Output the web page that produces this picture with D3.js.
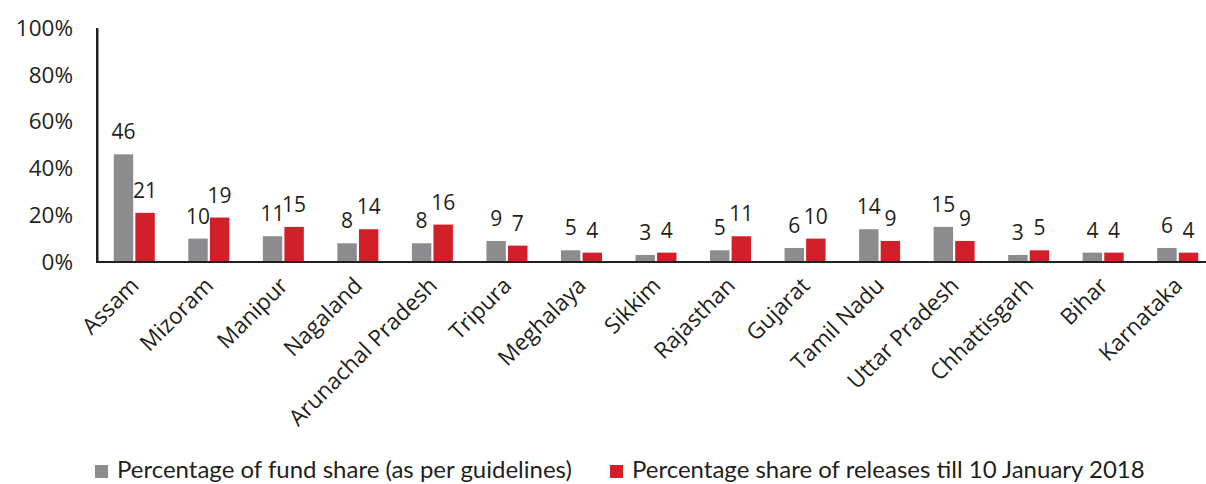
<!DOCTYPE html>
<html>
<head>
<meta charset="utf-8">
<script src="https://cdn.jsdelivr.net/npm/d3@7"></script>
<style>
  body { margin: 0; background: #fff; }
  svg { display: block; }
  text { font-family: "Open Sans", Lato, sans-serif; fill: #231f20; }
</style>
</head>
<body>
<svg id="chart" width="1206" height="484"></svg>
<script>
const categories = ["Assam", "Mizoram", "Manipur", "Nagaland", "Arunachal Pradesh", "Tripura", "Meghalaya", "Sikkim", "Rajasthan", "Gujarat", "Tamil Nadu", "Uttar Pradesh", "Chhattisgarh", "Bihar", "Karnataka"];
const fundShare = [46, 10, 11, 8, 8, 9, 5, 3, 5, 6, 14, 15, 3, 4, 6];
const releaseShare = [21, 19, 15, 14, 16, 7, 4, 4, 11, 10, 9, 9, 5, 4, 4];
const seriesNames = ["Percentage of fund share (as per guidelines)", "Percentage share of releases till 10 January 2018"];
const seriesColors = ["#8c8c8e", "#d2202a"];
const yTicks = [0, 20, 40, 60, 80, 100];

const svg = d3.select("#chart");
const x0 = 97, x1 = 1215, yTop = 28, yBottom = 262;

const x = d3.scaleBand().domain(categories).range([x0, x1]).paddingInner(0).paddingOuter(0);
const inner = d3.scaleBand().domain([0, 1]).range([0, 41]).paddingInner(0.1);
const y = d3.scaleLinear().domain([0, 100]).range([yBottom, yTop]);

// y axis
const yAxis = svg.append("g").attr("transform", `translate(${x0},0)`)
  .call(d3.axisLeft(y).tickValues(yTicks).tickFormat(d => d + "%").tickSize(0).tickPadding(24));
yAxis.select(".domain").attr("stroke", "#231f20").attr("stroke-width", 2);
yAxis.selectAll("text").style("font-size", "22.5px").attr("fill", "#231f20");

const series = [fundShare, releaseShare];
const groups = svg.append("g");
categories.forEach((c, i) => {
  const gx = x(c) + x.bandwidth() / 2 - 20.5;
  series.forEach((vals, s) => {
    const v = vals[i];
    groups.append("rect")
      .attr("x", gx + inner(s))
      .attr("y", y(v))
      .attr("width", inner.bandwidth())
      .attr("height", y(0) - y(v))
      .attr("fill", seriesColors[s]);
    groups.append("text")
      .attr("x", gx + inner(s) + inner.bandwidth() / 2)
      .attr("y", y(v) - 15)
      .attr("text-anchor", "middle")
      .style("font-size", "21px")
      .text(v);
  });
});

// x axis
const xAxis = svg.append("g").attr("transform", `translate(0,${yBottom})`)
  .call(d3.axisBottom(x).tickSize(0).tickSizeOuter(0).tickPadding(0));
xAxis.select(".domain").attr("stroke", "#231f20").attr("stroke-width", 2).attr("d", `M${x0},0H1206`);
xAxis.selectAll(".tick text")
  .style("font-size", "22.5px")
  .attr("text-anchor", "end")
  .attr("dy", 0)
  .attr("transform", "translate(6,25) rotate(-45)");

// y axis line redraw on top
svg.append("line").attr("x1", x0).attr("x2", x0).attr("y1", yTop).attr("y2", yBottom + 1)
  .attr("stroke", "#231f20").attr("stroke-width", 2);

// legend
const legend = svg.append("g");
const legendX = [95, 610];
seriesNames.forEach((n, s) => {
  legend.append("rect").attr("x", legendX[s]).attr("y", 465).attr("width", 13).attr("height", 13).attr("fill", seriesColors[s]);
  legend.append("text").attr("x", legendX[s] + 22).attr("y", 478)
    .style("font-family", "Lato, sans-serif").style("font-size", "24px").text(n);
});
</script>
</body>
</html>
